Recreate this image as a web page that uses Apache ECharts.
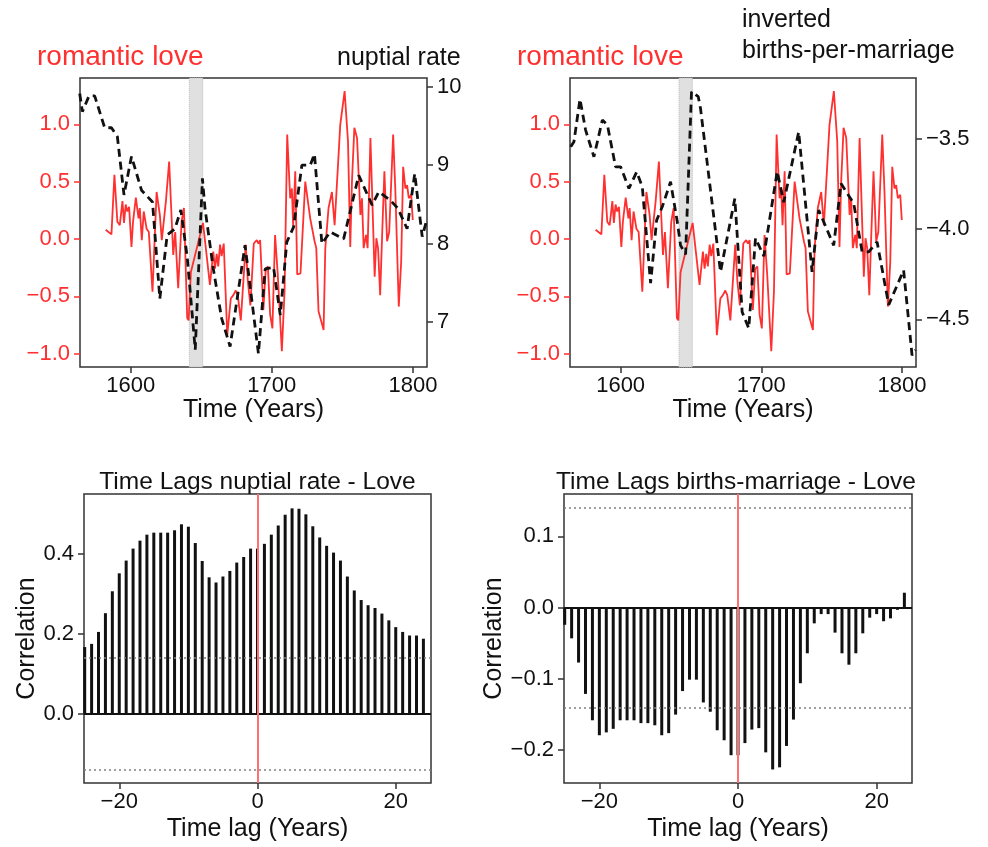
<!DOCTYPE html>
<html>
<head>
<meta charset="utf-8">
<script src="https://cdn.jsdelivr.net/npm/echarts@6/dist/echarts.min.js"></script>
<style>
  html, body { margin: 0; padding: 0; background: #fff; }
  #chart { width: 988px; height: 847px; }
</style>
</head>
<body>
<div id="chart"></div>
<script>
// romantic love index (red line, both top panels)
const loveYears = [
  1582.2, 1586.3, 1588.4, 1590.5, 1592.2, 1594.1, 1595.2, 1596.4, 1597.6, 1598.8,
  1600.5, 1601.6, 1603.6, 1605.5, 1606.4, 1607.8, 1609.2, 1611.2, 1612.8, 1615.4,
  1618.3, 1620.6, 1622.0, 1624.9, 1627.2, 1630.1, 1631.5, 1633.6, 1636.0, 1637.7,
  1640.0, 1641.0, 1642.6, 1651.2, 1656.1, 1658.5, 1659.7, 1660.9, 1662.0, 1663.3,
  1664.4, 1665.9, 1668.4, 1670.9, 1672.7, 1674.4, 1675.8, 1678.0, 1681.5, 1683.0,
  1684.8, 1687.2, 1689.3, 1690.5, 1691.7, 1694.0, 1695.7, 1697.2, 1698.8, 1700.4,
  1702.3, 1704.2, 1707.1, 1709.0, 1710.9, 1713.0, 1714.2, 1715.1, 1716.6, 1718.0,
  1720.3, 1723.7, 1727.2, 1730.3, 1731.5, 1733.1, 1736.7, 1737.9, 1740.2, 1742.6,
  1744.5, 1748.5, 1751.6, 1754.0, 1755.6, 1756.8, 1758.5, 1760.4, 1762.8, 1763.9,
  1765.1, 1766.8, 1767.9, 1769.9, 1772.9, 1774.1, 1775.3, 1776.8, 1778.2, 1779.8,
  1781.7, 1783.2, 1786.0, 1787.6, 1790.0, 1791.7, 1793.1, 1794.7, 1795.9, 1797.1,
  1798.8, 1799.9
]
const loveValues = [
  0.08, 0.04, 0.56, 0.15, 0.12, 0.33, 0.14, 0.30, 0.24, 0.28,
  -0.07, 0.15, 0.36, 0.18, 0.27, -0.01, 0.24, 0.09, 0.06, -0.46,
  0.41, 0.21, -0.01, 0.33, 0.675, -0.14, 0.06, -0.43, 0.15, 0.27,
  -0.69, -0.71, -0.29, 0.14, -0.40, -0.11, -0.26, -0.13, -0.24, -0.05,
  -0.15, -0.04, -0.84, -0.52, -0.49, -0.45, -0.49, -0.71, -0.05, -0.37,
  -0.58, -0.04, -0.01, -0.04, -0.01, -0.62, -0.26, -0.24, -0.66, -0.78,
  0.035, -0.31, -0.98, -0.46, 0.91, 0.355, 0.44, 0.12, 0.59, -0.31,
  -0.30, 0.50, 0.18, -0.02, -0.08, -0.63, -0.795, -0.08, 0.27, 0.41,
  0.12, 0.995, 1.29, 0.85, -0.07, 0.50, 0.97, 0.88, 0.21, 0.355,
  -0.08, 0.035, -0.08, 0.88, -0.33, 0.006, -0.08, -0.49, 0.035, 0.59,
  -0.02, 0.06, 0.91, 0.41, -0.59, -0.20, 0.63, 0.44, 0.47, 0.355,
  0.385, 0.165
]

// nuptial rate (black dashed, top left)
const nuptialYears = [
  1563.8, 1565.7, 1570.4, 1574.4, 1581.5, 1586.3, 1590.5, 1595.2, 1600.5, 1607.6,
  1615.4, 1620.6, 1625.8, 1631.3, 1635.5, 1640.0, 1645.7, 1650.8, 1652.6, 1658.5,
  1664.4, 1670.4, 1681.0, 1690.5, 1695.3, 1701.2, 1706.0, 1710.6, 1715.4, 1721.3,
  1727.3, 1730.2, 1735.5, 1741.4, 1750.9, 1761.6, 1771.1, 1775.8, 1784.1, 1789.3,
  1795.9, 1801.3, 1806.6, 1810.1
]
const nuptialValues = [
  9.91, 9.68, 9.88, 9.88, 9.475, 9.475, 9.36, 8.62, 9.11, 8.68,
  8.53, 7.30, 8.11, 8.19, 8.43, 7.83, 6.65, 8.83, 8.45, 7.68,
  7.05, 6.69, 7.98, 6.60, 7.68, 7.70, 7.09, 8.02, 8.21, 9.0,
  9.0, 9.14, 8.0, 8.15, 8.06, 8.87, 8.49, 8.66, 8.55, 8.45,
  8.19, 8.89, 8.09, 8.32
]

// inverted births-per-marriage (black dashed, top right)
const birthsYears = [
  1564.5, 1566.8, 1571.1, 1575.1, 1581.0, 1587.0, 1590.6, 1596.4, 1600.0, 1605.9,
  1611.4, 1615.4, 1621.3, 1625.6, 1629.6, 1635.5, 1640.3, 1642.6, 1646.2, 1650.4,
  1655.2, 1656.8, 1671.0, 1681.2, 1686.4, 1691.1, 1695.9, 1701.8, 1711.3, 1716.0,
  1726.6, 1736.1, 1740.8, 1751.5, 1756.7, 1765.7, 1771.7, 1776.4, 1782.3, 1790.6,
  1801.2, 1807.2, 1809.5
]
const birthsValues = [
  -3.543, -3.515, -3.278, -3.45, -3.598, -3.394, -3.422, -3.654, -3.654, -3.774,
  -3.682, -3.765, -4.30, -3.95, -3.876, -3.737, -3.96, -4.09, -4.14, -3.237,
  -3.265, -3.33, -4.237, -3.83, -4.46, -4.55, -4.05, -4.15, -3.68, -3.85,
  -3.46, -4.237, -3.894, -4.09, -3.746, -3.857, -4.126, -4.126, -4.07, -4.42,
  -4.228, -4.70, -4.67
]

// civil war band
const bandStart = 1641.5
const bandEnd = 1651

// time lag correlations
const lags = [
  -25, -24, -23, -22, -21, -20, -19, -18, -17, -16,
  -15, -14, -13, -12, -11, -10, -9, -8, -7, -6,
  -5, -4, -3, -2, -1, 0, 1, 2, 3, 4,
  5, 6, 7, 8, 9, 10, 11, 12, 13, 14,
  15, 16, 17, 18, 19, 20, 21, 22, 23, 24
]
const nuptialCorr = [
  0.167, 0.175, 0.205, 0.252, 0.307, 0.352, 0.384, 0.414, 0.434, 0.449,
  0.454, 0.454, 0.454, 0.460, 0.475, 0.469, 0.428, 0.383, 0.342, 0.329,
  0.344, 0.358, 0.379, 0.393, 0.414, 0.414, 0.426, 0.449, 0.472, 0.499,
  0.515, 0.514, 0.500, 0.470, 0.442, 0.421, 0.404, 0.384, 0.344, 0.309,
  0.285, 0.272, 0.265, 0.251, 0.234, 0.217, 0.205, 0.196, 0.196, 0.188
]
const birthsCorr = [
  -0.024, -0.043, -0.077, -0.121, -0.158, -0.179, -0.175, -0.170, -0.158, -0.158,
  -0.158, -0.162, -0.162, -0.165, -0.179, -0.176, -0.150, -0.117, -0.101, -0.101,
  -0.133, -0.146, -0.172, -0.186, -0.207, -0.207, -0.190, -0.171, -0.169, -0.203,
  -0.227, -0.224, -0.194, -0.157, -0.106, -0.064, -0.022, -0.009, -0.009, -0.035,
  -0.064, -0.080, -0.064, -0.036, -0.014, -0.009, -0.019, -0.015, -0.003, 0.021
]
const significance = 0.142

// tick labels
const yearTicks = [1600, 1700, 1800]
const loveTicks = [-1, -0.5, 0, 0.5, 1]
const nuptialTicks = [7, 8, 9, 10]
const birthsTicks = [-4.5, -4.0, -3.5]
const lagTicks = [-20, 0, 20]
const nuptialCorrTicks = [0, 0.2, 0.4]
const birthsCorrTicks = [-0.2, -0.1, 0, 0.1]

const RED = '#ff3030'
const INK = '#111'
const FONT = 'Liberation Sans'

const fmt = (digits) => (v) => {
  const s = Number(v).toFixed(digits)
  return s.charAt(0) === '-' ? '\u2212' + s.slice(1) : s
}

const pairs = (xs, ys) => xs.map((x, i) => [x, ys[i]])

const makeAxis = (opts) => ({
  type: 'value',
  min: opts.min,
  max: opts.max,
  position: opts.position,
  gridIndex: opts.grid,
  name: opts.name || '',
  nameLocation: 'middle',
  nameGap: opts.nameGap || 30,
  nameRotate: opts.nameRotate,
  nameTextStyle: { fontSize: 25, color: INK, fontFamily: FONT },
  axisLine: { show: false, onZero: false },
  axisTick: {
    show: true,
    length: 6,
    customValues: opts.ticks,
    lineStyle: { color: opts.color || '#333', width: 1.5 },
  },
  axisLabel: {
    customValues: opts.ticks,
    fontSize: 22,
    color: opts.color || INK,
    fontFamily: FONT,
    margin: opts.margin || 10,
    formatter: fmt(opts.digits),
  },
  splitLine: { show: false },
})

const gridBox = (left, top, width, height) => ({
  left, top, width, height,
  containLabel: false,
  outerBoundsMode: 'none',
  show: true,
  borderColor: '#333',
  borderWidth: 1.5,
  backgroundColor: 'transparent',
})

const bandSeries = (xi, yi) => ({
  type: 'line',
  xAxisIndex: xi,
  yAxisIndex: yi,
  data: [],
  z: 1,
  silent: true,
  markArea: {
    silent: true,
    itemStyle: { color: '#e0e0e0', borderColor: '#b8b8b8', borderWidth: 1, borderType: 'dotted' },
    data: [[{ xAxis: bandStart }, { xAxis: bandEnd }]],
  },
})

const loveSeries = (xi, yi) => ({
  type: 'line',
  xAxisIndex: xi,
  yAxisIndex: yi,
  data: pairs(loveYears, loveValues),
  showSymbol: false,
  z: 3,
  lineStyle: { color: RED, width: 1.8 },
})

const dashedSeries = (xi, yi, xs, ys) => ({
  type: 'line',
  xAxisIndex: xi,
  yAxisIndex: yi,
  data: pairs(xs, ys),
  showSymbol: false,
  z: 4,
  lineStyle: { color: INK, width: 2.8, type: [8, 5] },
})

const lagSeries = (xi, yi, values) => ({
  type: 'bar',
  xAxisIndex: xi,
  yAxisIndex: yi,
  data: pairs(lags, values),
  barWidth: 3,
  itemStyle: { color: INK },
  markLine: {
    silent: true,
    symbol: ['none', 'none'],
    label: { show: false },
    data: [
      { yAxis: significance, lineStyle: { color: '#808080', width: 1.5, type: [2, 3] } },
      { yAxis: -significance, lineStyle: { color: '#808080', width: 1.5, type: [2, 3] } },
      { yAxis: 0, lineStyle: { color: INK, width: 2, type: 'solid' } },
      { xAxis: 0, lineStyle: { color: '#ff7070', width: 2, type: 'solid' } },
    ],
  },
})

const text = (x, y, str, size, color, align) => ({
  type: 'text',
  x, y,
  style: {
    text: str,
    fill: color,
    fontSize: size,
    fontFamily: FONT,
    align: align || 'left',
    verticalAlign: 'middle',
  },
})

const chart = echarts.init(document.getElementById('chart'))

const option = {
  animation: false,
  backgroundColor: '#fff',
  textStyle: { fontFamily: FONT },
  grid: [
    gridBox(80, 78, 347, 289),
    gridBox(570, 78, 346, 289),
    gridBox(84, 494, 347, 289),
    gridBox(564, 494, 348, 289),
  ],
  xAxis: [
    makeAxis({ grid: 0, min: 1564, max: 1810, ticks: yearTicks, digits: 0, name: 'Time (Years)', nameGap: 30, margin: 8 }),
    makeAxis({ grid: 1, min: 1564, max: 1810, ticks: yearTicks, digits: 0, name: 'Time (Years)', nameGap: 30, margin: 8 }),
    makeAxis({ grid: 2, min: -25.1, max: 25.1, ticks: lagTicks, digits: 0, name: 'Time lag (Years)', nameGap: 34, margin: 8 }),
    makeAxis({ grid: 3, min: -25.1, max: 25.1, ticks: lagTicks, digits: 0, name: 'Time lag (Years)', nameGap: 34, margin: 8 }),
  ],
  yAxis: [
    makeAxis({ grid: 0, min: -1.117, max: 1.404, ticks: loveTicks, digits: 1, color: RED, position: 'left' }),
    makeAxis({ grid: 0, min: 6.43, max: 10.108, ticks: nuptialTicks, digits: 0, position: 'right' }),
    makeAxis({ grid: 1, min: -1.117, max: 1.404, ticks: loveTicks, digits: 1, color: RED, position: 'left' }),
    makeAxis({ grid: 1, min: -4.765, max: -3.161, ticks: birthsTicks, digits: 1, position: 'right' }),
    makeAxis({ grid: 2, min: -0.174, max: 0.551, ticks: nuptialCorrTicks, digits: 1, position: 'left', name: 'Correlation', nameGap: 42, nameRotate: 90 }),
    makeAxis({ grid: 3, min: -0.246, max: 0.1595, ticks: birthsCorrTicks, digits: 1, position: 'left', name: 'Correlation', nameGap: 56, nameRotate: 90 }),
  ],
  series: [
    bandSeries(0, 0),
    loveSeries(0, 0),
    dashedSeries(0, 1, nuptialYears, nuptialValues),
    bandSeries(1, 2),
    loveSeries(1, 2),
    dashedSeries(1, 3, birthsYears, birthsValues),
    lagSeries(2, 4, nuptialCorr),
    lagSeries(3, 5, birthsCorr),
  ],
  graphic: [
    text(37, 57, 'romantic love', 28, RED),
    text(337, 58, 'nuptial rate', 25, INK),
    text(517, 57, 'romantic love', 28, RED),
    text(742, 20, 'inverted', 25, INK),
    text(742, 51, 'births-per-marriage', 25, INK),
    text(257.5, 482, 'Time Lags nuptial rate - Love', 24.5, INK, 'center'),
    text(736, 482, 'Time Lags births-marriage - Love', 24.5, INK, 'center'),
  ],
}

chart.setOption(option)
</script>
</body>
</html>
